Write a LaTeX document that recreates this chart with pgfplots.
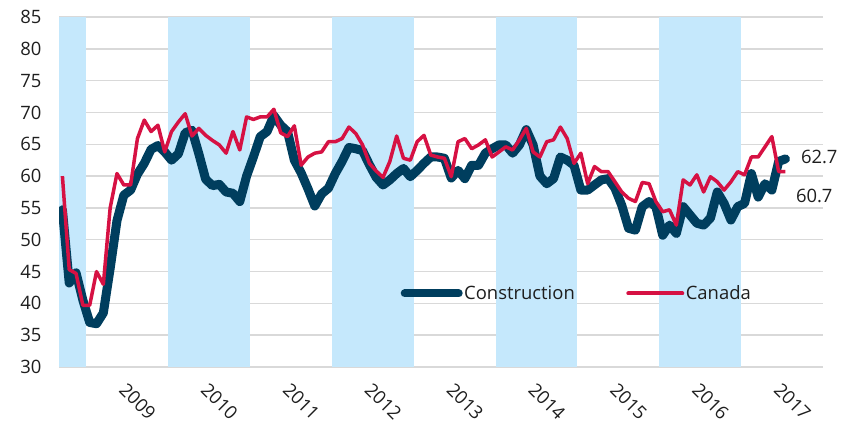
\documentclass[border=0pt]{standalone}
\usepackage{fontspec}
\setmainfont{Open Sans}
\usepackage{pgfplots}
\usepackage{pgfplotstable}
\pgfplotsset{compat=1.18}
\definecolor{constr}{RGB}{0,62,94}
\definecolor{canada}{RGB}{214,17,67}
\definecolor{bandc}{RGB}{197,232,252}
\definecolor{gridc}{RGB}{217,217,217}
\definecolor{txt}{RGB}{30,30,30}
\newcommand{\chartfont}{\fontsize{18.5}{22}\selectfont}
\pgfplotstableread{
i c r
0 54.7 60.0
1 43.2 45.3
2 44.8 44.7
3 40.5 39.7
4 37.0 39.7
5 36.8 45.0
6 38.5 43.0
7 45.5 55.0
8 53.0 60.4
9 57.0 58.6
10 57.8 58.6
11 60.3 65.9
12 62.0 68.8
13 64.2 67.0
14 64.8 68.0
15 63.8 63.8
16 62.5 67.0
17 63.5 68.5
18 66.8 69.8
19 67.2 66.3
20 63.5 67.5
21 59.5 66.4
22 58.5 65.6
23 58.7 64.9
24 57.5 63.6
25 57.3 67.0
26 56.0 64.1
27 60.0 69.3
28 63.0 68.9
29 66.2 69.3
30 67.0 69.3
31 69.5 70.5
32 68.0 66.8
33 67.0 66.2
34 62.5 67.9
35 60.5 61.7
36 58.0 63.0
37 55.3 63.6
38 57.2 63.8
39 58.1 65.4
40 60.4 65.4
41 62.3 65.9
42 64.5 67.7
43 64.3 66.7
44 64.0 64.9
45 61.8 62.0
46 59.8 60.8
47 58.6 59.8
48 59.4 62.3
49 60.4 66.3
50 61.2 62.8
51 59.9 62.5
52 60.9 65.4
53 62.0 66.4
54 63.0 63.3
55 63.0 63.0
56 62.8 62.8
57 59.7 59.9
58 60.9 65.4
59 59.6 65.9
60 61.7 64.3
61 61.7 64.9
62 63.6 65.7
63 64.3 63.0
64 64.9 63.8
65 64.9 64.6
66 63.6 64.1
67 64.9 65.7
68 67.3 67.5
69 64.9 63.8
70 60.0 63.0
71 58.8 65.4
72 59.6 65.7
73 63.0 67.7
74 62.5 65.9
75 61.7 62.0
76 57.8 63.6
77 57.8 58.8
78 58.6 61.5
79 59.4 60.7
80 59.6 60.7
81 58.1 59.1
82 55.4 57.5
83 51.8 56.5
84 51.5 56.0
85 55.2 59.0
86 56.0 58.8
87 55.2 56.0
88 50.7 54.4
89 52.3 54.7
90 51.0 52.3
91 55.2 59.4
92 53.9 58.6
93 52.6 60.2
94 52.3 57.5
95 53.4 59.9
96 57.5 59.1
97 55.7 57.8
98 53.1 59.1
99 55.2 60.7
100 55.7 60.2
101 60.4 63.0
102 56.7 63.0
103 58.8 64.6
104 57.8 66.2
105 62.3 60.7
106 62.7 60.7
}\datatable
\pgfplotstableread{
x y
-0.5 85
3.5 85
}\bandA
\pgfplotstableread{
x y
15.5 85
27.5 85
}\bandB
\pgfplotstableread{
x y
39.5 85
51.5 85
}\bandC
\pgfplotstableread{
x y
63.5 85
75.5 85
}\bandD
\pgfplotstableread{
x y
87.5 85
99.5 85
}\bandE
\begin{document}
\begin{tikzpicture}
\useasboundingbox (0,0) rectangle (844bp,427bp);
\begin{axis}[
  at={(59bp,60bp)}, anchor=south west,
  scale only axis, width=764bp, height=350bp,
  xmin=-0.5, xmax=111.5, ymin=30, ymax=85,
  ytick={30,35,...,85},
  ymajorgrids, grid style={gridc, line width=1.5bp},
  axis line style={draw=none},
  major tick length=0pt,
  xtick={11,23,35,47,59,71,83,95,107},
  xticklabels={2009,2010,2011,2012,2013,2014,2015,2016,2017},
  tick label style={font=\chartfont, text=txt},
  xticklabel style={rotate=-45, anchor=north west, yshift=-14bp},
  yticklabel style={xshift=-14bp},
  /pgf/number format/assume math mode=true,
  clip mode=individual,
  legend style={at={(0.447,0.21)}, anchor=west, draw=none, fill=none,
    inner sep=0pt, nodes={inner sep=1.5bp},
    font=\chartfont, text=txt,
    /tikz/every even column/.append style={column sep=50bp}},
  legend columns=2,
  legend cell align=left,
]
\addplot[draw=none, fill=bandc, forget plot] table[x=x,y=y] {\bandA} \closedcycle;
\addplot[draw=none, fill=bandc, forget plot] table[x=x,y=y] {\bandB} \closedcycle;
\addplot[draw=none, fill=bandc, forget plot] table[x=x,y=y] {\bandC} \closedcycle;
\addplot[draw=none, fill=bandc, forget plot] table[x=x,y=y] {\bandD} \closedcycle;
\addplot[draw=none, fill=bandc, forget plot] table[x=x,y=y] {\bandE} \closedcycle;
\addplot[constr, line width=9bp, line join=round, line cap=round, no markers,
  legend image code/.code={\draw[constr, line width=8bp, line cap=round] (0bp,0bp) -- (54bp,0bp);}]
  table[x=i,y=c] {\datatable};
\addlegendentry{Construction}
\addplot[canada, line width=3.5bp, line join=round, no markers,
  legend image code/.code={\draw[canada, line width=4bp, line cap=round] (0bp,0bp) -- (54bp,0bp);}]
  table[x=i,y=r] {\datatable};
\addlegendentry{Canada}
\node[anchor=west, font=\chartfont, text=txt] at (axis cs:106,62.7) [xshift=12bp, yshift=2bp] {62.7};
\node[anchor=west, font=\chartfont, text=txt] at (axis cs:106,60.7) [xshift=7bp, yshift=-24bp] {60.7};
\end{axis}
\end{tikzpicture}
\end{document}
